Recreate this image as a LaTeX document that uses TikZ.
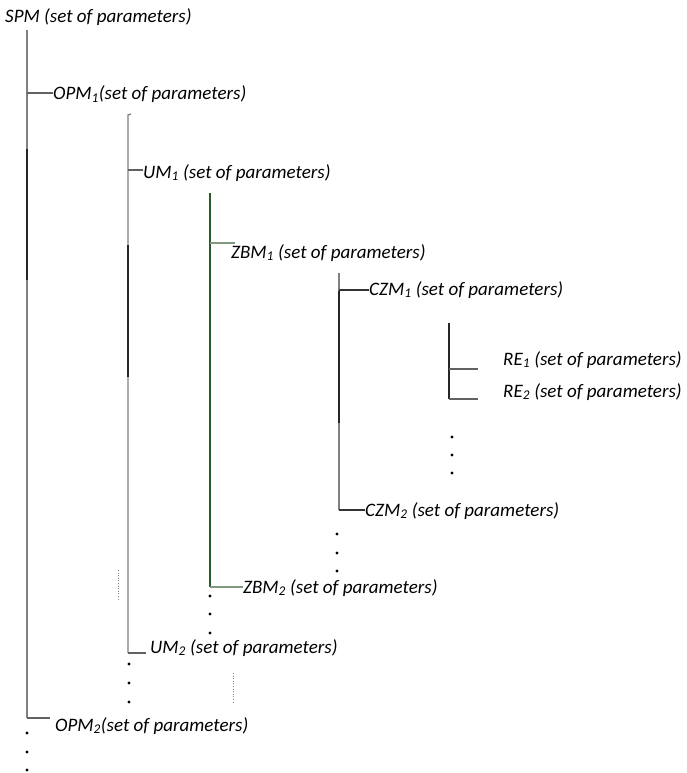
\documentclass[tikz,border=0pt]{standalone}
\usepackage{fontspec}
\setmainfont{Carlito}
\begin{document}
\begin{tikzpicture}[x=1pt,y=-1pt,
  lbl/.style={anchor=base west,inner sep=0pt,font=\fontsize{19}{22}\selectfont\itshape},
  stem/.style={draw=black!50,line width=1.3pt},
  stemdark/.style={draw=black!85,line width=1.5pt},
  twig/.style={draw=black!62,line width=1.2pt},
  greenstem/.style={draw=green!25!black!85,line width=1.1pt},
  greentwig/.style={draw=green!20!black!50,line width=1.3pt},
  vdots/.style={fill=black,radius=1.7pt},
  faint/.style={draw=black!50,dotted,line width=0.6pt}]
\useasboundingbox (0,0) rectangle (687,773);

% labels
\node[lbl] (spm)  at (5,23)   {SPM (set of parameters)};
\node[lbl] (opm1) at (53,100) {OPM\textsubscript{1}(set of parameters)};
\node[lbl] (um1)  at (143,178) {UM\textsubscript{1} (set of parameters)};
\node[lbl] (zbm1) at (231,258) {ZBM\textsubscript{1} (set of parameters)};
\node[lbl] (czm1) at (369,295) {CZM\textsubscript{1} (set of parameters)};
\node[lbl] (re1)  at (503,365) {RE\textsubscript{1} (set of parameters)};
\node[lbl] (re2)  at (503,397) {RE\textsubscript{2} (set of parameters)};
\node[lbl] (czm2) at (365,516) {CZM\textsubscript{2} (set of parameters)};
\node[lbl] (zbm2) at (243,593) {ZBM\textsubscript{2} (set of parameters)};
\node[lbl] (um2)  at (150,653) {UM\textsubscript{2} (set of parameters)};
\node[lbl] (opm2) at (55,731)  {OPM\textsubscript{2}(set of parameters)};

% stem and branch points
\coordinate (s1) at (27,30);   \coordinate (b1) at (27,93);   \coordinate (e1) at (27,718);
\coordinate (s2) at (128,115); \coordinate (b2) at (128,170); \coordinate (e2) at (128,653);
\coordinate (s3) at (210,193); \coordinate (b3) at (210,243); \coordinate (e3) at (210,587);
\coordinate (s4) at (339,273); \coordinate (b4) at (339,290); \coordinate (e4) at (339,510);
\coordinate (s5) at (449,323); \coordinate (b5) at (449,369); \coordinate (e5) at (449,399);
\coordinate (zt) at (235,243);
\coordinate (r1) at (478,369); \coordinate (r2) at (478,399);
\coordinate (u2) at (146,653); \coordinate (o2) at (50,718);

% level 1 (SPM)
\draw[stem] (s1) -- (e1);
\draw[stemdark] (27,149) -- (27,280);
\draw[twig] (b1) -- (opm1.west |- b1);
\draw[twig] (e1) -- (o2);

% level 2 (OPM)
\draw[stem] (131,114) -- (s2) -- (e2);
\draw[stemdark] (128,245) -- (128,377);
\draw[twig] (b2) -- (um1.west |- b2);
\draw[twig] (e2) -- (u2);

% level 3 (UM)
\draw[greenstem] (s3) -- (e3);
\draw[greentwig] (b3) -- (zt);
\draw[greentwig] (e3) -- (zbm2.west |- e3);

% level 4 (ZBM)
\draw[stem] (s4) -- (e4);
\draw[stemdark] (339,291) -- (339,423);
\draw[twig,draw=black!80] (b4) -- (czm1.west |- b4);
\draw[twig,draw=black!80] (e4) -- (czm2.west |- e4);

% level 5 (CZM)
\draw[stemdark] (s5) -- (e5);
\draw[twig] (b5) -- (r1);
\draw[twig] (e5) -- (r2);

% continuation dots
\foreach \yy in {437,455,473} \fill[vdots] (452,\yy) circle;
\foreach \yy in {534,553,571} \fill[vdots] (337,\yy) circle;
\foreach \yy in {596,614,633} \fill[vdots] (210,\yy) circle;
\foreach \yy in {664,683,702} \fill[vdots] (129,\yy) circle;
\foreach \yy in {733,752,770} \fill[vdots] (27,\yy) circle;

% faint dotted marks
\draw[faint] (118,570) -- (118,600);
\draw[faint] (233,673) -- (233,702);
\end{tikzpicture}
\end{document}
